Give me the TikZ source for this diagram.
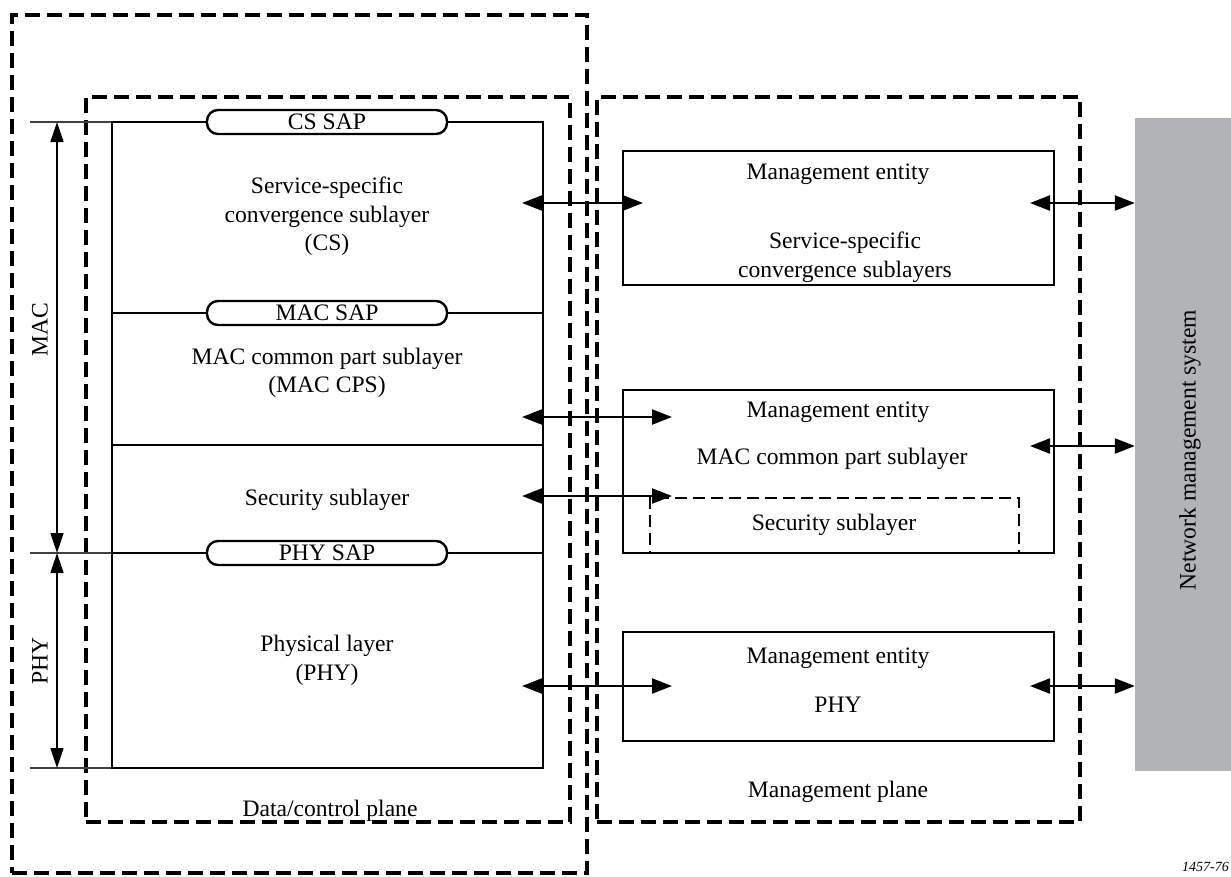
\documentclass[tikz,border=0pt]{standalone}
\usepackage{fontspec}
\setmainfont{Liberation Serif}
\usetikzlibrary{arrows.meta}
\begin{document}
\begin{tikzpicture}[x=1pt,y=-1pt,
  lbl/.style={font=\fontsize{23.6}{28.5}\selectfont, inner sep=0pt, align=center},
  dashbox/.style={draw, line width=3.2pt, dash pattern=on 15pt off 7pt, inner sep=0pt},
  thindash/.style={draw, line width=2.4pt, dash pattern=on 12pt off 6pt, inner sep=0pt},
  solidbox/.style={draw, line width=2.4pt, inner sep=0pt},
  sap/.style={draw, line width=2.4pt, rounded corners=11pt, fill=white, minimum width=240pt, minimum height=24pt, inner sep=0pt, font=\fontsize{23.6}{26}\selectfont},
  arr/.style={line width=2.2pt, {Triangle[length=20pt,width=15pt]}-{Triangle[length=20pt,width=15pt]}},
  dimarr/.style={line width=1.6pt, {Triangle[length=20pt,width=13pt]}-{Triangle[length=20pt,width=13pt]}},
  tick/.style={line width=1.2pt, draw=black!75},
]
\useasboundingbox (0,0) rectangle (1231,876);

% outer dashed frames
\node[dashbox, minimum width=575pt, minimum height=858pt] (outer) at (299.5,444) {};
\node[dashbox, minimum width=484pt, minimum height=725pt] (dcplane) at (328,459.5) {};
\node[dashbox, minimum width=483pt, minimum height=725pt] (mgmtplane) at (838.5,459.5) {};

% gray network management system
\node[fill={rgb,255:red,178;green,179;blue,182}, minimum width=100pt, minimum height=653pt, inner sep=0pt] (nms) at (1185,444.5) {};
\node[lbl, rotate=90] (nmstext) at (1190,450) {Network management system};

% data/control stack
\draw[tick] (30,122) -- (112,122);
\draw[tick] (30,553) -- (112,553);
\draw[tick] (30,768) -- (112,768);
\node[solidbox, minimum width=431pt, minimum height=646pt] (stack) at (327.5,445) {};
\draw[line width=2.4pt] (112,313) -- (543,313);
\draw[line width=2.4pt] (112,445) -- (543,445);
\draw[line width=2.4pt] (112,553) -- (543,553);

\node[sap] (cssap) at (327,122) {CS SAP};
\node[sap] (macsap) at (327,313) {MAC SAP};
\node[sap] (physap) at (327,553) {PHY SAP};

\node[lbl] (cs) at (327,216.5) {Service-specific\\convergence sublayer\\(CS)};
\node[lbl] (maccps) at (327,373) {MAC common part sublayer\\(MAC CPS)};
\node[lbl] (sec) at (327,500) {Security sublayer};
\node[lbl] (phy) at (327,660.5) {Physical layer\\(PHY)};
\node[lbl] (dctext) at (330,811) {Data/control plane};

% dimension arrows
\coordinate (macT) at (57,122);
\coordinate (macB) at (57,553);
\coordinate (phyB) at (57,768);
\draw[dimarr] (macT) -- (macB);
\draw[dimarr] (macB) -- (phyB);
\node[lbl, rotate=90] (maclbl) at (40,330) {MAC};
\node[lbl, rotate=90] (phylbl) at (40,661) {PHY};

% management entities
\node[thindash, minimum width=369pt, minimum height=55pt] (msec) at (834.5,525.5) {};
\node[solidbox, minimum width=431pt, minimum height=134pt] (m1) at (838.5,218) {};
\node[solidbox, minimum width=431pt, minimum height=163pt] (m2) at (838.5,471.5) {};
\node[solidbox, minimum width=431pt, minimum height=109pt] (m3) at (838.5,686.5) {};

\node[lbl] (m1a) at (838,174) {Management entity};
\node[lbl] (m1b) at (845,257) {Service-specific\\convergence sublayers};
\node[lbl] (m2a) at (838,412) {Management entity};
\node[lbl] (m2b) at (832,459) {MAC common part sublayer};
\node[lbl] (m2c) at (834,525) {Security sublayer};
\node[lbl] (m3a) at (838,658) {Management entity};
\node[lbl] (m3b) at (838,705) {PHY};
\node[lbl] (mptext) at (838,792) {Management plane};

% arrows stack <-> management
\coordinate (a1l) at (522,203); \coordinate (a1r) at (643,203);
\coordinate (a2l) at (522,417); \coordinate (a2r) at (672,417);
\coordinate (a3l) at (522,496); \coordinate (a3r) at (672,496);
\coordinate (a4l) at (522,686); \coordinate (a4r) at (672,686);
\draw[arr] (a1l) -- (a1r);
\draw[arr] (a2l) -- (a2r);
\draw[arr] (a3l) -- (a3r);
\draw[arr] (a4l) -- (a4r);

% arrows management <-> NMS
\coordinate (b1) at (1030,203);
\coordinate (b2) at (1030,446);
\coordinate (b3) at (1030,686);
\draw[arr] (b1) -- (nms.west |- b1);
\draw[arr] (b2) -- (nms.west |- b2);
\draw[arr] (b3) -- (nms.west |- b3);

\node[font=\fontsize{14}{16}\selectfont\itshape, anchor=base east, inner sep=0pt] (fig) at (1229,871) {1457-76};
\end{tikzpicture}
\end{document}
